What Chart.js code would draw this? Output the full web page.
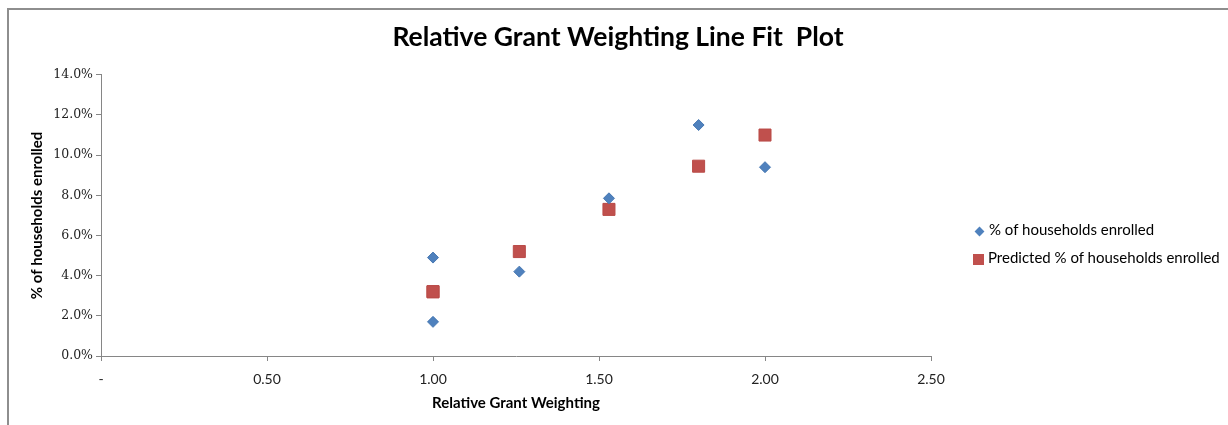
<!DOCTYPE html>
<html>
<head>
<meta charset="utf-8">
<script src="https://cdn.jsdelivr.net/npm/chart.js@4.4.1/dist/chart.umd.min.js"></script>
<style>
  body { margin: 0; background: #fff; }
  #wrap { position: relative; width: 1228px; height: 425px; overflow: hidden; background: #fff; }
  #frame { position: absolute; left: 7px; top: 8px; width: 1400px; height: 600px;
           border-top: 2px solid #8e8e8e; border-left: 2px solid #8e8e8e; }
  #chart { position: absolute; left: 0; top: 0; }
  #legend { position: absolute; left: 972px; top: 219px;
            font: 15px Lato, sans-serif; color: #000; }
  .item { height: 28px; line-height: 20px; white-space: nowrap; }
  .mark { display: inline-block; vertical-align: middle; margin-right: 4px; }
</style>
</head>
<body>
<div id="wrap">
  <div id="frame"></div>
  <canvas id="chart" width="1228" height="425"></canvas>
  <div id="legend"></div>
</div>
<script>
const chartTitle = "Relative Grant Weighting Line Fit  Plot"
const xTitle = "Relative Grant Weighting"
const yTitle = "% of households enrolled"
const seriesNames = ["% of households enrolled", "Predicted % of households enrolled"]

// relative grant weighting (x) and enrolment in percent
const grantWeighting = [1.00, 1.00, 1.26, 1.53, 1.80, 2.00]
const enrolled = [4.9, 1.7, 4.2, 7.85, 11.5, 9.4]
const predicted = [3.2, 3.2, 5.2, 7.3, 9.45, 11.0]

const xTicks = [0, 0.5, 1.0, 1.5, 2.0, 2.5]
const yTicks = [0, 2, 4, 6, 8, 10, 12, 14]

const blue = "#4f81bd"
const red = "#c0504d"
const sans = "Lato, 'Open Sans', sans-serif"

const toPoints = (xs, ys) => xs.map((x, i) => ({ x: x, y: ys[i] }))

const ctx = document.querySelector("#chart").getContext("2d")
const chart = new Chart(ctx, {
  type: "scatter",
  data: {
    datasets: [
      {
        label: seriesNames[0],
        data: toPoints(grantWeighting, enrolled),
        pointStyle: "rectRot",
        pointRadius: 5.5,
        backgroundColor: blue,
        borderColor: "#4677b2",
        borderWidth: 1,
      },
      {
        label: seriesNames[1],
        data: toPoints(grantWeighting, predicted),
        pointStyle: "rect",
        pointRadius: 8.5,
        backgroundColor: red,
        borderColor: "#b94a47",
        borderWidth: 1,
      },
    ],
  },
  options: {
    responsive: false,
    animation: false,
    layout: { padding: { left: 8, right: 0, top: 0, bottom: 0 } },
    plugins: {
      legend: { display: false },
      tooltip: { enabled: false },
      title: {
        display: true,
        text: chartTitle,
        color: "#000",
        font: { family: sans, size: 26.5, weight: "bold" },
        padding: { top: 22, bottom: 21 },
      },
    },
    scales: {
      x: {
        type: "linear",
        min: 0,
        max: 2.5,
        afterBuildTicks: (s) => { s.ticks = xTicks.map((v) => ({ value: v })) },
        afterFit: (s) => { s.height = 69 },
        ticks: {
          callback: (v) => (v === 0 ? "-" : v.toFixed(2)),
          color: "#222",
          padding: 10,
          maxRotation: 0,
          font: { family: sans, size: 14 },
        },
        grid: { drawOnChartArea: false, tickLength: 5, color: "#868686" },
        border: { color: "#868686", width: 1 },
        title: {
          display: true,
          text: xTitle,
          color: "#000",
          padding: { top: 0, bottom: 13 },
          font: { family: sans, size: 15, weight: "bold" },
        },
      },
      y: {
        min: 0,
        max: 14,
        afterBuildTicks: (s) => { s.ticks = yTicks.map((v) => ({ value: v })) },
        afterFit: (s) => { s.width = 93 },
        ticks: {
          callback: (v) => v.toFixed(1) + "%",
          color: "#222",
          padding: 3,
          font: { family: "'DejaVu Serif', serif", size: 12.5 },
        },
        grid: { drawOnChartArea: false, tickLength: 5, color: "#868686" },
        border: { color: "#868686", width: 1 },
        title: {
          display: true,
          text: yTitle,
          color: "#000",
          padding: { top: 20, bottom: 0 },
          font: { family: sans, size: 15, weight: "bold" },
        },
      },
      // empty axis on the right that keeps room for the legend
      pad: {
        type: "linear",
        position: "right",
        display: true,
        ticks: { display: false },
        grid: { display: false },
        border: { display: false },
        afterFit: (s) => { s.width = 297 },
      },
    },
  },
})

// legend built from the datasets
const legend = document.querySelector("#legend")
chart.data.datasets.forEach((ds) => {
  const item = document.createElement("div")
  item.className = "item"
  const mark = document.createElement("span")
  mark.className = "mark"
  if (ds.pointStyle === "rectRot") {
    mark.style.cssText = "width:7px;height:7px;transform:rotate(45deg);margin:0 6px 0 4px;background:" + ds.backgroundColor
  } else {
    mark.style.cssText = "width:11px;height:11px;margin:0 4px 0 1px;background:" + ds.backgroundColor
  }
  item.appendChild(mark)
  item.appendChild(document.createTextNode(ds.label))
  legend.appendChild(item)
})
</script>
</body>
</html>
